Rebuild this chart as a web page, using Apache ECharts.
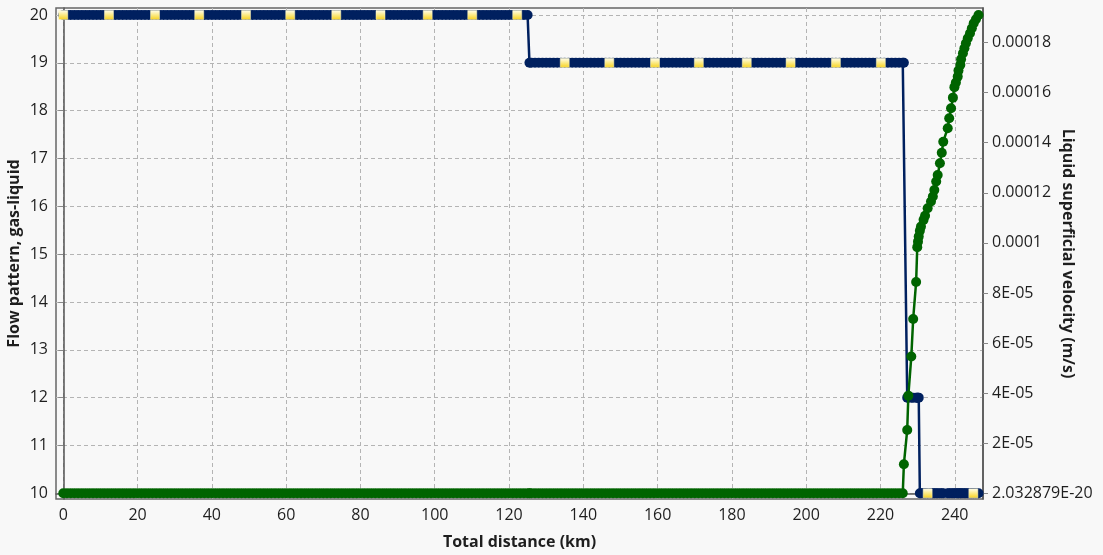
<!DOCTYPE html>
<html><head><meta charset="utf-8">
<script src="https://cdn.jsdelivr.net/npm/echarts@6/dist/echarts.min.js"></script>
<style>html,body{margin:0;padding:0;background:#f8f8f8}#c{width:1103px;height:555px}</style>
</head><body><div id="c"></div><script>
// Profile points along the pipeline (km)
const distanceKm = [
  0,1,2,3,4,5,6,7,8,9,10,11,12,13,14,15,16,17,18,19,
  20,21,22,23,24,25,26,27,28,29,30,31,32,33,34,35,36,37,38,39,
  40,41,42,43,44,45,46,47,48,49,50,51,52,53,54,55,56,57,58,59,
  60,61,62,63,64,65,66,67,68,69,70,71,72,73,74,75,76,77,78,79,
  80,81,82,83,84,85,86,87,88,89,90,91,92,93,94,95,96,97,98,99,
  100,101,102,103,104,105,106,107,108,109,110,111,112,113,114,115,116,117,118,119,
  120,121,122,123,124,125,125.5,
  126,127,128,129,130,131,132,133,134,135,136,137,138,139,140,141,142,143,144,145,
  146,147,148,149,150,151,152,153,154,155,156,157,158,159,160,161,162,163,164,165,
  166,167,168,169,170,171,172,173,174,175,176,177,178,179,180,181,182,183,184,185,
  186,187,188,189,190,191,192,193,194,195,196,197,198,199,200,201,202,203,204,205,
  206,207,208,209,210,211,212,213,214,215,216,217,218,219,220,221,222,223,224,225,
  226,226.3,
  227.2,227.5,228.3,228.8,229.6,229.9,230.1,230.3,
  230.6,230.9,231.6,232.0,232.7,233.6,234.1,234.5,235.0,235.4,
  236.0,236.5,236.9,238.1,238.5,239.0,239.5,239.9,240.3,240.8,
  241.0,241.5,241.7,242.2,242.6,243.0,243.5,244.1,244.6,245.1,
  245.7,246.4
];
// Flow pattern, gas-liquid (left axis)
const flowPattern = [
  20,20,20,20,20,20,20,20,20,20,20,20,20,20,20,20,20,20,20,20,
  20,20,20,20,20,20,20,20,20,20,20,20,20,20,20,20,20,20,20,20,
  20,20,20,20,20,20,20,20,20,20,20,20,20,20,20,20,20,20,20,20,
  20,20,20,20,20,20,20,20,20,20,20,20,20,20,20,20,20,20,20,20,
  20,20,20,20,20,20,20,20,20,20,20,20,20,20,20,20,20,20,20,20,
  20,20,20,20,20,20,20,20,20,20,20,20,20,20,20,20,20,20,20,20,
  20,20,20,20,20,20,19,
  19,19,19,19,19,19,19,19,19,19,19,19,19,19,19,19,19,19,19,19,
  19,19,19,19,19,19,19,19,19,19,19,19,19,19,19,19,19,19,19,19,
  19,19,19,19,19,19,19,19,19,19,19,19,19,19,19,19,19,19,19,19,
  19,19,19,19,19,19,19,19,19,19,19,19,19,19,19,19,19,19,19,19,
  19,19,19,19,19,19,19,19,19,19,19,19,19,19,19,19,19,19,19,19,
  19,19,
  12,12,12,12,12,12,12,12,
  10,10,10,10,10,10,10,10,10,10,
  10,10,10,10,10,10,10,10,10,10,
  10,10,10,10,10,10,10,10,10,10,
  10,10
];
// Liquid superficial velocity (m/s) (right axis)
const liquidVelocity = [
  0,0,0,0,0,0,0,0,0,0,0,0,0,0,0,0,0,0,0,0,
  0,0,0,0,0,0,0,0,0,0,0,0,0,0,0,0,0,0,0,0,
  0,0,0,0,0,0,0,0,0,0,0,0,0,0,0,0,0,0,0,0,
  0,0,0,0,0,0,0,0,0,0,0,0,0,0,0,0,0,0,0,0,
  0,0,0,0,0,0,0,0,0,0,0,0,0,0,0,0,0,0,0,0,
  0,0,0,0,0,0,0,0,0,0,0,0,0,0,0,0,0,0,0,0,
  0,0,0,0,0,0,0,
  0,0,0,0,0,0,0,0,0,0,0,0,0,0,0,0,0,0,0,0,
  0,0,0,0,0,0,0,0,0,0,0,0,0,0,0,0,0,0,0,0,
  0,0,0,0,0,0,0,0,0,0,0,0,0,0,0,0,0,0,0,0,
  0,0,0,0,0,0,0,0,0,0,0,0,0,0,0,0,0,0,0,0,
  0,0,0,0,0,0,0,0,0,0,0,0,0,0,0,0,0,0,0,0,
  0,1.16e-5,
  2.53e-5,3.90e-5,5.46e-5,6.96e-5,8.44e-5,9.83e-5,1.005e-4,1.025e-4,
  1.048e-4,1.065e-4,1.092e-4,1.108e-4,1.138e-4,1.165e-4,1.185e-4,1.211e-4,1.245e-4,1.271e-4,
  1.318e-4,1.360e-4,1.404e-4,1.458e-4,1.498e-4,1.538e-4,1.580e-4,1.622e-4,1.640e-4,1.664e-4,
  1.688e-4,1.711e-4,1.733e-4,1.757e-4,1.777e-4,1.797e-4,1.817e-4,1.837e-4,1.857e-4,1.877e-4,
  1.893e-4,1.910e-4
];
// Square point markers on the flow-pattern curve
const markerDistanceKm = [0,12.3,24.7,36.6,49.2,61.1,73.5,85.4,98.1,110.1,122.2,
  135.0,147.0,159.3,171.1,184.0,195.8,208.0,220.1,232.7,245.0];
const markerPattern = [20,20,20,20,20,20,20,20,20,20,20,19,19,19,19,19,19,19,19,10,10];

const distanceTicks = [0,20,40,60,80,100,120,140,160,180,200,220,240];
const patternTicks = [10,11,12,13,14,15,16,17,18,19,20];
const velocityTicks = [0,2e-5,4e-5,6e-5,8e-5,1e-4,1.2e-4,1.4e-4,1.6e-4,1.8e-4];
const velocityTickLabels = ['2.032879E-20','2E-05','4E-05','6E-05','8E-05','0.0001','0.00012','0.00014','0.00016','0.00018'];

if (distanceKm.length !== flowPattern.length || distanceKm.length !== liquidVelocity.length) {
  throw new Error('length mismatch ' + distanceKm.length + ' ' + flowPattern.length + ' ' + liquidVelocity.length);
}

const FONT = 'Open Sans';
const txt = '#1e1e1e';
const chart = echarts.init(document.getElementById('c'), null, {renderer: 'canvas'});
const labelStyle = {color: txt, fontFamily: FONT, fontSize: 16};
const nameStyle = {color: txt, fontFamily: FONT, fontSize: 16, fontWeight: 'bold'};
const tickStyle = {show: true, length: 5, lineStyle: {color: '#888'}};
const axisLine = {show: true, lineStyle: {color: '#555', width: 1.5}};
const dashed = {show: true, lineStyle: {color: '#b4b4b4', type: [4, 3], width: 1}};

chart.setOption({
  backgroundColor: '#f8f8f8',
  animation: false,
  grid: {left: 56, right: 120, top: 8, bottom: 56, show: true, borderColor: '#666', borderWidth: 1.5,
    backgroundColor: '#f8f8f8', containLabel: false, outerBoundsMode: 'none'},
  xAxis: {
    type: 'value', min: -1.96, max: 247.6,
    name: 'Total distance (km)', nameLocation: 'middle', nameGap: 35, nameMoveOverlap: false, nameTextStyle: nameStyle,
    axisLine: axisLine,
    axisTick: Object.assign({customValues: distanceTicks}, tickStyle),
    axisLabel: Object.assign({customValues: distanceTicks, margin: 8}, labelStyle),
    splitLine: dashed
  },
  yAxis: [{
    type: 'value', min: 9.881, max: 20.146, position: 'left',
    name: 'Flow pattern, gas-liquid', nameLocation: 'middle', nameGap: 34, nameRotate: 90, nameMoveOverlap: false, nameTextStyle: nameStyle,
    axisLine: axisLine,
    axisTick: Object.assign({customValues: patternTicks}, tickStyle),
    axisLabel: Object.assign({customValues: patternTicks, margin: 8}, labelStyle),
    splitLine: dashed
  }, {
    type: 'value', min: -2.28e-6, max: 1.938e-4, position: 'right',
    name: 'Liquid superficial velocity (m/s)', nameLocation: 'middle', nameGap: 77, nameRotate: -90, nameMoveOverlap: false, nameTextStyle: nameStyle,
    axisLine: axisLine,
    axisTick: Object.assign({customValues: velocityTicks}, tickStyle),
    axisLabel: Object.assign({customValues: velocityTicks, margin: 9,
      formatter: function (v) {
        for (let i = 0; i < velocityTicks.length; i++) if (Math.abs(velocityTicks[i] - v) < 1e-9) return velocityTickLabels[i];
        return '';
      }}, labelStyle),
    splitLine: {show: false}
  }],
  series: [{
    type: 'line', yAxisIndex: 0, z: 2,
    data: distanceKm.map((d, i) => [d, flowPattern[i]]),
    symbol: 'circle', symbolSize: 10, showSymbol: true, showAllSymbol: true,
    itemStyle: {color: '#00205f'}, lineStyle: {color: '#00205f', width: 2.5},
    emphasis: {disabled: true}, silent: true
  }, {
    type: 'scatter', yAxisIndex: 0, z: 3,
    data: markerDistanceKm.map((d, i) => [d, markerPattern[i]]),
    symbol: 'rect', symbolSize: [9, 9],
    itemStyle: {
      color: new echarts.graphic.LinearGradient(0, 0, 0, 1, [
        {offset: 0, color: '#fffef2'}, {offset: 0.45, color: '#fcec8e'}, {offset: 1, color: '#f7d21e'}]),
      borderColor: '#fff6c0', borderWidth: 0.5, opacity: 1
    },
    emphasis: {disabled: true}, silent: true
  }, {
    type: 'line', yAxisIndex: 1, z: 4,
    data: distanceKm.map((d, i) => [d, liquidVelocity[i]]),
    symbol: 'circle', symbolSize: 10, showSymbol: true, showAllSymbol: true,
    itemStyle: {color: '#006400'}, lineStyle: {color: '#006400', width: 2.5},
    emphasis: {disabled: true}, silent: true
  }]
});
</script></body></html>
